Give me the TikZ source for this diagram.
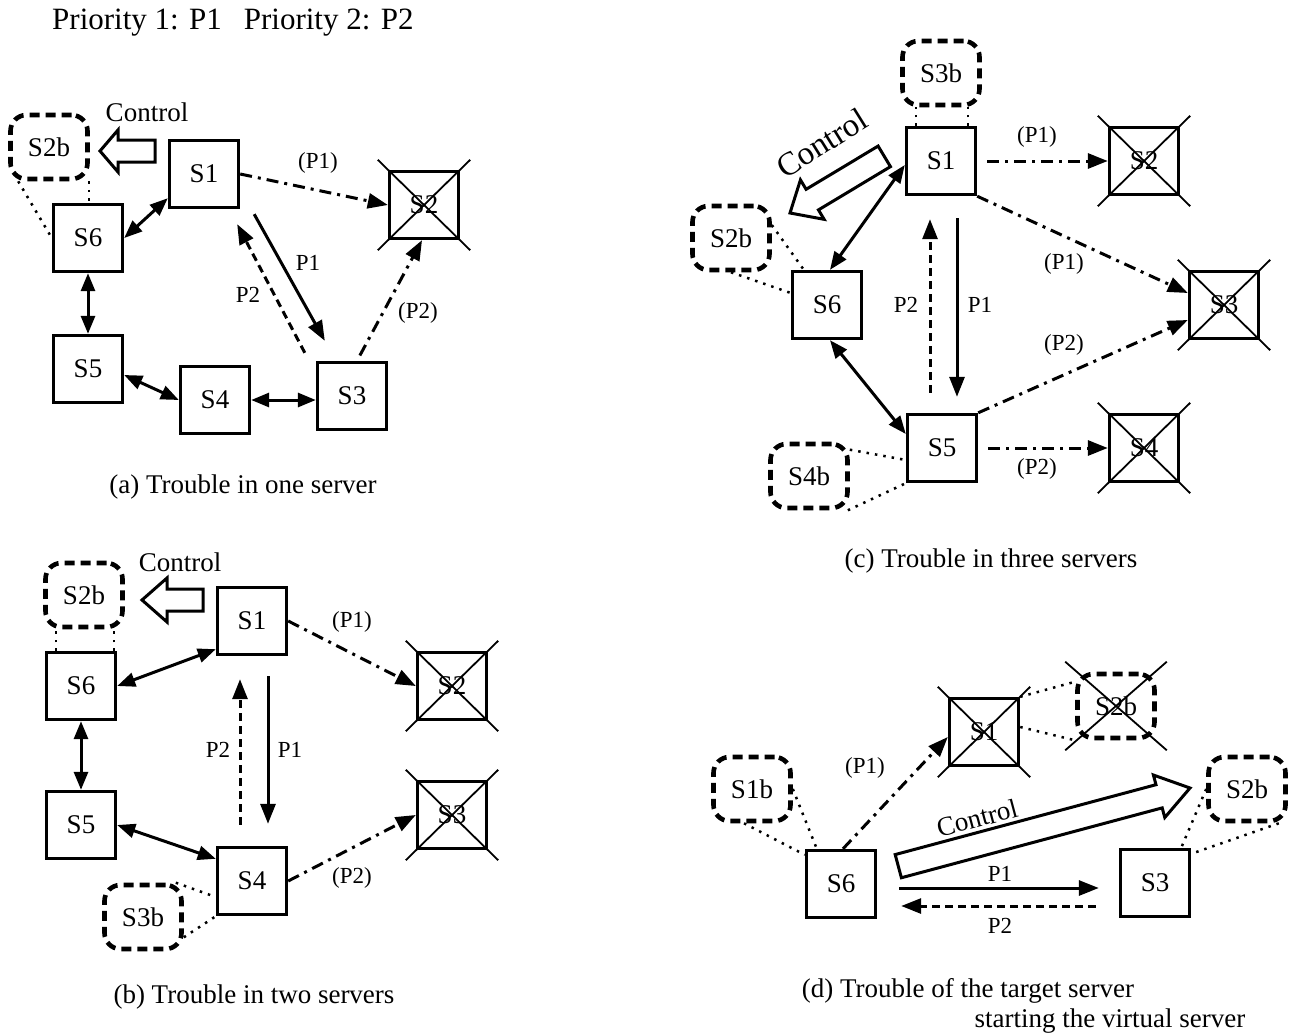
\documentclass[tikz,border=0pt]{standalone}
\usepackage{fontspec}
\setmainfont{Liberation Serif}
\usetikzlibrary{arrows.meta}
\newcommand\myNfont{\fontsize{27}{30}\selectfont}
\newcommand\myLfont{\fontsize{23}{26}\selectfont}
\newcommand\myCfont{\fontsize{27}{30}\selectfont}
\newcommand\myTfont{\fontsize{31}{34}\selectfont}
\newcommand\crossbox[1]{%
  \draw[xline] ([shift={(-10,-10)}]#1.north west) -- ([shift={(10,10)}]#1.south east);
  \draw[xline] ([shift={(10,-10)}]#1.north east) -- ([shift={(-10,10)}]#1.south west);}
\newcommand\ctlarrow[7]{% tip x, tip y, angle, total length, head length, head half width, body half width
  \begin{scope}[shift={(#1,#2)},rotate=#3]
    \draw[ctl] (0,0) -- (-#5,-#6) -- (-#5,-#7) -- (-#4,-#7) -- (-#4,#7) -- (-#5,#7) -- (-#5,#6) -- cycle;
  \end{scope}}
\tikzset{
  srv/.style={draw, line width=3.4pt, minimum width=69pt, minimum height=67pt, inner sep=0pt, font=\myNfont},
  bak/.style={draw, line width=4.6pt, dash pattern=on 10pt off 6pt, rounded corners=16pt, minimum width=77pt, minimum height=64pt, inner sep=0pt, font=\myNfont},
  lbl/.style={font=\myLfont, inner sep=0pt},
  captxt/.style={font=\myCfont, inner sep=0pt},
  conn/.style={line width=3pt},
  arr/.style={conn, -{Triangle[length=20pt,width=15pt]}},
  darr/.style={conn, {Triangle[length=18pt,width=14pt]}-{Triangle[length=18pt,width=14pt]}},
  dd/.style={dash pattern=on 12pt off 6pt on 3pt off 6pt},
  dsh/.style={dash pattern=on 8pt off 5pt},
  dots/.style={line width=2.5pt, dash pattern=on 2.5pt off 6pt},
  ctl/.style={draw, line width=3pt, fill=white, line join=miter},
  xline/.style={line width=1.8pt},
}
\begin{document}
\begin{tikzpicture}[x=1pt,y=-1pt]
\useasboundingbox (0,0) rectangle (1296,1036);
\node[font=\myTfont, anchor=west, inner sep=0pt] (title) at (52,23) {Priority 1: P1\hspace{22pt}Priority 2: P2};

% ---------------- (a)
\node[bak] (aS2b) at (49,147) {S2b};
\node[srv] (aS1) at (204,174) {S1};
\node[srv] (aS2) at (424,205) {S2};
\node[srv] (aS6) at (88,238) {S6};
\node[srv] (aS5) at (88,369) {S5};
\node[srv] (aS4) at (215,400) {S4};
\node[srv] (aS3) at (352,396) {S3};
\crossbox{aS2}
\ctlarrow{100}{151}{180}{55}{18}{21}{11}
\node[captxt] (actl) at (147,112) {Control};
\draw[darr] ([yshift=11]aS1.south west) -- (aS6.east);
\draw[darr] (aS6.south) -- (aS5.north);
\draw[darr] ([yshift=-6]aS5.east) -- (aS4.west);
\draw[darr] (aS4.east) -- (aS4.east -| aS3.west);
\draw[arr, dd] (aS1.east) -- (aS2.west);
\draw[arr, dd, shorten <=6pt] ([xshift=5]aS3.north) -- ([xshift=-2]aS2.south);
\draw[arr] ([shift={(14,5)}]aS1.south east) -- ([shift={(9,-20)}]aS3.north west);
\draw[arr, dsh] ([shift={(-11,-8)}]aS3.north west) -- ([shift={(-3,15)}]aS1.south east);
\draw[dots] ([xshift=10]aS2b.south west) -- (aS6.west);
\draw[dots] ([xshift=-1]aS2b.south east) -- ([xshift=-1]aS2b.south east |- aS6.north);
\node[lbl] (alp1) at (318,163) {(P1)};
\node[lbl] (alq1) at (308,263) {P1};
\node[lbl] (alq2) at (248,295) {P2};
\node[lbl] (alp2) at (418,313) {(P2)};
\node[captxt] (acap) at (243,487) {(a) Trouble in one server};

% ---------------- (b)
\node[bak] (bS2b) at (84,595) {S2b};
\node[srv] (bS1) at (252,621) {S1};
\node[srv] (bS2) at (452,686) {S2};
\node[srv] (bS3) at (452,815) {S3};
\node[srv] (bS6) at (81,686) {S6};
\node[srv] (bS5) at (81,825) {S5};
\node[srv] (bS4) at (252,881) {S4};
\node[bak] (bS3b) at (143,917) {S3b};
\crossbox{bS2}
\crossbox{bS3}
\ctlarrow{142}{600}{180}{61}{25}{22}{11}
\node[captxt] (bctl) at (180,562) {Control};
\draw[darr] (bS6.east) -- ([yshift=7]bS1.south west);
\draw[darr] (bS6.south) -- (bS5.north);
\draw[darr] (bS5.east) -- ([yshift=-13]bS4.north west);
\draw[arr, dd] (bS1.east) -- (bS2.west);
\draw[arr, dd] (bS4.east) -- (bS3.west);
\draw[arr] ([shift={(16,20)}]bS1.south) -- ([shift={(16,-22)}]bS4.north);
\draw[arr, dsh] ([shift={(-12,-21)}]bS4.north) -- ([shift={(-12,23)}]bS1.south);
\draw[dots] ([xshift=11]bS6.north west) -- ([xshift=11]bS6.north west |- bS2b.south);
\draw[dots] ([xshift=-3]bS6.north east) -- ([xshift=-3]bS6.north east |- bS2b.south);
\draw[dots] ([xshift=-8]bS3b.north east) -- ([yshift=-16]bS4.west);
\draw[dots] ([yshift=14]bS3b.south east) -- (bS4.south west);
\node[lbl] (blp1) at (352,622) {(P1)};
\node[lbl] (blp2) at (352,878) {(P2)};
\node[lbl] (blq1) at (290,750) {P1};
\node[lbl] (blq2) at (218,750) {P2};
\node[captxt] (bcap) at (254,997) {(b) Trouble in two servers};

% ---------------- (c)
\node[bak] (cS3b) at (941,73) {S3b};
\node[srv] (cS1) at (941,161) {S1};
\node[srv] (cS2) at (1144,161) {S2};
\node[srv] (cS3) at (1224,305) {S3};
\node[srv] (cS4) at (1144,448) {S4};
\node[srv] (cS6) at (827,305) {S6};
\node[srv] (cS5) at (942,448) {S5};
\node[bak] (cS2b) at (731,238) {S2b};
\node[bak] (cS4b) at (809,476) {S4b};
\crossbox{cS2}
\crossbox{cS3}
\crossbox{cS4}
\ctlarrow{790}{213}{211}{110}{26}{23}{12}
\node[font=\fontsize{33}{36}\selectfont, inner sep=0pt, rotate=32] (cctl) at (822,143) {Control};
\draw[arr, dd, shorten <=10pt] (cS1.east) -- (cS2.west);
\draw[arr, dd] (cS1.south east) -- ([yshift=12]cS3.west);
\draw[arr, dd] (cS5.north east) -- ([yshift=-15]cS3.west);
\draw[arr, dd, shorten <=10pt] (cS5.east) -- (cS4.west);
\draw[darr] ([yshift=-4]cS1.west) -- ([xshift=3]cS6.north);
\draw[darr] ([xshift=3]cS6.south) -- ([yshift=14]cS5.west);
\draw[arr] ([shift={(16,22)}]cS1.south) -- ([shift={(15,-16)}]cS5.north);
\draw[arr, dsh] ([shift={(-12,-20)}]cS5.north) -- ([shift={(-11,23)}]cS1.south);
\draw[dots] ([xshift=11]cS1.north west) -- ([xshift=11]cS1.north west |- cS3b.south);
\draw[dots] ([xshift=-9]cS1.north east) -- ([xshift=-9]cS1.north east |- cS3b.south);
\draw[dots] ([yshift=13]cS2b.east) -- ([xshift=13]cS6.north west);
\draw[dots] (cS2b.south) -- ([yshift=12]cS6.west);
\draw[dots] ([yshift=-8]cS4b.north east) -- ([yshift=-12]cS5.west);
\draw[dots] ([xshift=-2]cS4b.south east) -- (cS5.south west);
\node[lbl] (clp1) at (1037,137) {(P1)};
\node[lbl] (clp1b) at (1064,264) {(P1)};
\node[lbl] (clp2b) at (1064,345) {(P2)};
\node[lbl] (clp2) at (1037,469) {(P2)};
\node[lbl] (clq2) at (906,305) {P2};
\node[lbl] (clq1) at (980,305) {P1};
\node[captxt] (ccap) at (991,561) {(c) Trouble in three servers};

% ---------------- (d)
\node[srv] (dS1) at (984,732) {S1};
\node[bak] (dS2bx) at (1116,706) {S2b};
\node[bak] (dS1b) at (752,789) {S1b};
\node[bak] (dS2b) at (1247,789) {S2b};
\node[srv] (dS6) at (841,884) {S6};
\node[srv] (dS3) at (1155,883) {S3};
\crossbox{dS1}
\crossbox{dS2bx}
\ctlarrow{1190}{788}{15}{302}{32}{22}{12}
\node[captxt, rotate=15] (dctl) at (977,818) {Control};
\draw[arr, dd] ([xshift=2]dS6.north) -- ([yshift=-5]dS1.west);
\draw[arr] ([shift={(22,4)}]dS6.east) -- ([shift={(-20,5)}]dS3.west);
\draw[arr, dsh] ([shift={(-23,23)}]dS3.west) -- ([shift={(24,22)}]dS6.east);
\draw[dots] (dS1.north east) -- ([yshift=-10]dS2bx.north west);
\draw[dots] ([yshift=5]dS1.east) -- (dS2bx.south west);
\draw[dots] (dS1b.east) -- ([xshift=12]dS6.north west);
\draw[dots] ([xshift=-8]dS1b.south) -- ([yshift=-6]dS6.north west);
\draw[dots] (dS2b.west) -- ([xshift=-10]dS3.north east);
\draw[dots] ([xshift=-9]dS2b.south east) -- ([yshift=-6]dS3.north east);
\node[lbl] (dlp1) at (865,768) {(P1)};
\node[lbl] (dlq1) at (1000,874) {P1};
\node[lbl] (dlq2) at (1000,926) {P2};
\node[captxt] (dcap1) at (968,991) {(d) Trouble of the target server};
\node[captxt] (dcap2) at (1110,1021) {starting the virtual server};
\end{tikzpicture}
\end{document}
